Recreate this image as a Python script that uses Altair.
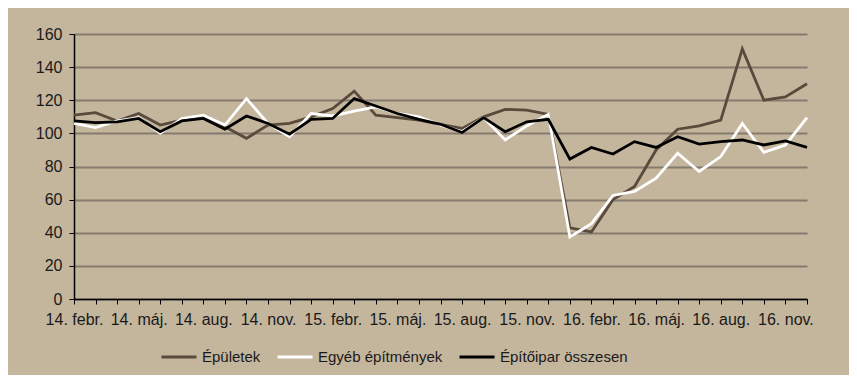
import json
import altair as alt
import pandas as pd

months = [
    "14. febr.", "14. márc.", "14. ápr.", "14. máj.", "14. jún.", "14. júl.", "14. aug.", "14. szept.", "14. okt.", "14. nov.", "14. dec.",
    "15. jan.", "15. febr.", "15. márc.", "15. ápr.", "15. máj.", "15. jún.", "15. júl.", "15. aug.", "15. szept.", "15. okt.", "15. nov.", "15. dec.",
    "16. jan.", "16. febr.", "16. márc.", "16. ápr.", "16. máj.", "16. jún.", "16. júl.", "16. aug.", "16. szept.", "16. okt.", "16. nov.", "16. dec.",
]

epuletek = [111, 112.5, 107.5, 112, 105, 108, 110, 104, 97, 105, 106, 110, 115, 125.5, 111, 109.5, 108, 105.5, 103, 110,
            114.5, 114, 111.5, 43, 40.5, 60, 68, 90, 102.5, 104.5, 108, 151, 120, 122, 130]
egyeb = [106, 103.5, 107.5, 109.5, 100, 109, 111, 105, 121, 106, 98, 112, 110.5, 113.5, 116, 112, 110, 105, 101, 109.5,
         96, 104.5, 111.5, 37.5, 45.5, 62.5, 65, 73, 88, 77, 86, 106, 88.5, 93, 109.5]
osszesen = [107.5, 106.5, 107, 109, 101, 107.5, 109, 102.5, 110.5, 106, 99.5, 108.5, 109, 121, 116.5, 112, 108.5, 105.5, 100.5, 109.5,
            101, 107, 108.5, 84.5, 91.5, 87.5, 95, 91.5, 98, 93.5, 95, 96, 93, 95.5, 91.5]

series_names = ["Épületek", "Egyéb építmények", "Építőipar összesen"]
series_values = [epuletek, egyeb, osszesen]
series_colors = ["#5a4a3b", "#ffffff", "#000000"]
series_widths = [2.8, 2.8, 4.2]

rows = []
for order, (name, vals) in enumerate(zip(series_names, series_values)):
    for i, v in enumerate(vals):
        rows.append({"idx": i, "month": months[i], "series": name, "value": v, "order": order})
df = pd.DataFrame(rows)

label_expr = "datum.value % 3 == 0 ? " + json.dumps(months, ensure_ascii=False) + "[datum.value] : ''"

FONT = "Liberation Sans"

chart = alt.Chart(df).mark_line(strokeJoin="miter", strokeCap="butt").encode(
    x=alt.X("idx:Q",
            scale=alt.Scale(domain=[0, len(months) - 1], nice=False, zero=False),
            axis=alt.Axis(values=list(range(len(months))), labelExpr=label_expr, title=None,
                          grid=False, domainColor="#000000", domainWidth=1.5,
                          tickColor="#000000", tickSize=5, tickWidth=1,
                          labelFont=FONT, labelFontSize=16, labelColor="#1a1a1a",
                          labelPadding=7, labelOverlap=False, labelFlush=False)),
    y=alt.Y("value:Q",
            scale=alt.Scale(domain=[0, 160], nice=False),
            axis=alt.Axis(values=list(range(0, 161, 20)), title=None,
                          grid=True, gridColor="#857b6f", gridWidth=2,
                          domainColor="#000000", domainWidth=1.5,
                          tickColor="#000000", tickSize=5, tickWidth=1,
                          labelFont=FONT, labelFontSize=16, labelColor="#1a1a1a",
                          labelPadding=7)),
    color=alt.Color("series:N",
                    scale=alt.Scale(domain=series_names, range=series_colors),
                    sort=series_names,
                    legend=alt.Legend(title=None, orient="none", direction="horizontal",
                                      legendX=86, legendY=304,
                                      symbolType="stroke", symbolSize=1225, symbolStrokeWidth=3,
                                      labelFont=FONT, labelFontSize=15, labelColor="#1a1a1a",
                                      labelOffset=4, columnPadding=10, labelLimit=300)),
    strokeWidth=alt.StrokeWidth("series:N",
                                scale=alt.Scale(domain=series_names, range=series_widths),
                                legend=None),
    order=alt.Order("order:Q"),
    detail="series:N",
).properties(
    width=733,
    height=265,
    background="#c4b59d",
    padding={"left": 66, "top": 26, "right": 42, "bottom": 76},
    autosize=alt.AutoSizeParams(type="none"),
).configure_view(stroke=None)

chart.save("out.html", embed_options={"renderer": "svg", "actions": False})
